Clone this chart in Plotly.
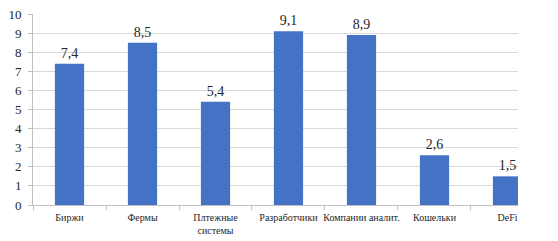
import plotly.graph_objects as go

categories = ["Биржи", "Фермы", "Плтежные<br>системы", "Разработчики",
              "Компании аналит.", "Кошельки", "DeFi"]
values = [7.4, 8.5, 5.4, 9.1, 8.9, 2.6, 1.5]
y_ticks = list(range(0, 11))

labels = [f"{v:.1f}".replace(".", ",") for v in values]
SERIF = "Liberation Serif"

fig = go.Figure(go.Bar(
    x=categories, y=values,
    marker=dict(color="#4472C4", line=dict(width=0)),
    width=0.4,
    text=labels, textposition="outside", cliponaxis=False,
    textfont=dict(family=SERIF, size=14, color="#262626"),
))

fig.update_layout(
    width=558, height=241,
    margin=dict(l=33, r=40, t=14, b=36, autoexpand=False),
    paper_bgcolor="white", plot_bgcolor="white",
    showlegend=False,
    font=dict(family=SERIF, color="#262626"),
)
fig.update_xaxes(
    type="category", range=[-0.5, 6.144], automargin=False, tickangle=0,
    showgrid=False, showline=True, linecolor="#bfbfbf", linewidth=1,
    ticks="outside", tickson="boundaries", ticklen=4, tickcolor="#bfbfbf",
    ticklabelstandoff=3,
    tickfont=dict(family=SERIF, size=10, color="#262626"),
)
fig.update_yaxes(
    range=[0, 10], tickvals=y_ticks, automargin=False,
    showgrid=True, gridcolor="#d9d9d9", gridwidth=1,
    showline=True, linecolor="#bfbfbf", linewidth=1,
    ticks="outside", ticklen=4, tickcolor="#bfbfbf",
    ticklabelstandoff=4,
    tickfont=dict(family=SERIF, size=13, color="#262626"),
    zeroline=False,
)

fig.write_html("out.html")
